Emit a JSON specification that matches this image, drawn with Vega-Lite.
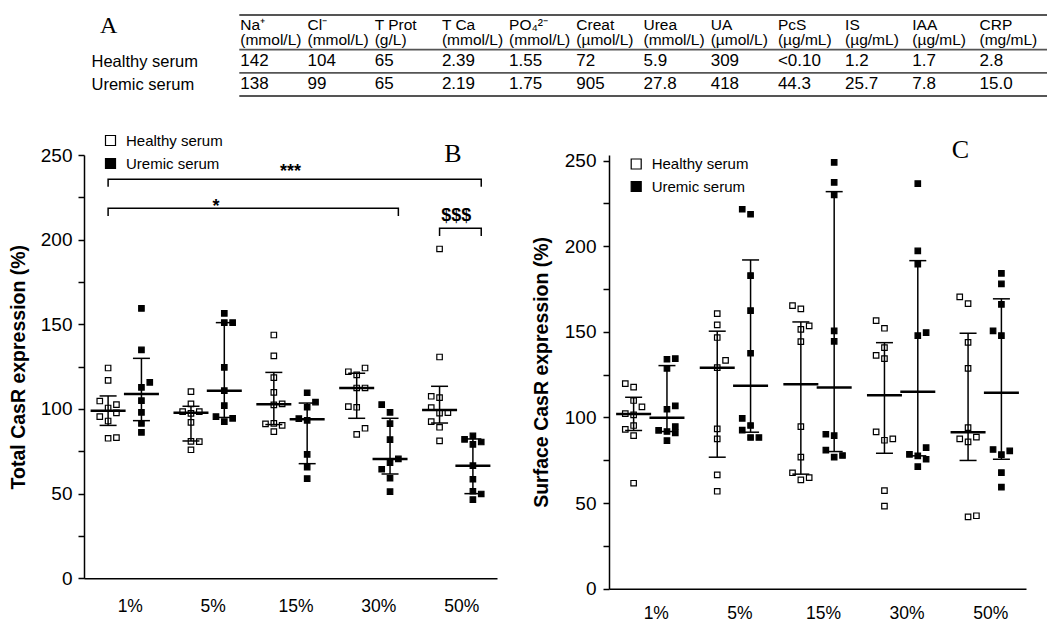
{
  "$schema": "https://vega.github.io/schema/vega-lite/v6.json",
  "padding": {"left": 8, "top": 13, "right": 0, "bottom": 0},
  "background": "white",
  "config": {
    "view": {"stroke": null},
    "font": "Liberation Sans",
    "axis": {"labelColor": "black", "titleColor": "black", "domainColor": "black", "tickColor": "black", "labelFont": "Liberation Sans", "titleFont": "Liberation Sans", "grid": false},
    "legend": {"labelFont": "Liberation Sans", "labelColor": "black"},
    "title": {"color": "black"}
  },
  "bounds": "flush",
  "spacing": 59,
  "resolve": {"scale": {"fill": "independent"}, "legend": {"fill": "independent"}},
  "datasets": {
    "tbl": [
      {"c": "Na", "r": "header", "t": "Na⁺"}, {"c": "Cl", "r": "header", "t": "Cl⁻"}, {"c": "TProt", "r": "header", "t": "T Prot"}, {"c": "TCa", "r": "header", "t": "T Ca"}, {"c": "PO4", "r": "header", "t": "PO₄²⁻"}, {"c": "Creat", "r": "header", "t": "Creat"}, {"c": "Urea", "r": "header", "t": "Urea"}, {"c": "UA", "r": "header", "t": "UA"}, {"c": "PcS", "r": "header", "t": "PcS"}, {"c": "IS", "r": "header", "t": "IS"}, {"c": "IAA", "r": "header", "t": "IAA"}, {"c": "CRP", "r": "header", "t": "CRP"},
      {"c": "Na", "r": "units", "t": "(mmol/L)"}, {"c": "Cl", "r": "units", "t": "(mmol/L)"}, {"c": "TProt", "r": "units", "t": "(g/L)"}, {"c": "TCa", "r": "units", "t": "(mmol/L)"}, {"c": "PO4", "r": "units", "t": "(mmol/L)"}, {"c": "Creat", "r": "units", "t": "(µmol/L)"}, {"c": "Urea", "r": "units", "t": "(mmol/L)"}, {"c": "UA", "r": "units", "t": "(µmol/L)"}, {"c": "PcS", "r": "units", "t": "(µg/mL)"}, {"c": "IS", "r": "units", "t": "(µg/mL)"}, {"c": "IAA", "r": "units", "t": "(µg/mL)"}, {"c": "CRP", "r": "units", "t": "(mg/mL)"},
      {"c": "Na", "r": "healthy", "t": "142"}, {"c": "Cl", "r": "healthy", "t": "104"}, {"c": "TProt", "r": "healthy", "t": "65"}, {"c": "TCa", "r": "healthy", "t": "2.39"}, {"c": "PO4", "r": "healthy", "t": "1.55"}, {"c": "Creat", "r": "healthy", "t": "72"}, {"c": "Urea", "r": "healthy", "t": "5.9"}, {"c": "UA", "r": "healthy", "t": "309"}, {"c": "PcS", "r": "healthy", "t": "<0.10"}, {"c": "IS", "r": "healthy", "t": "1.2"}, {"c": "IAA", "r": "healthy", "t": "1.7"}, {"c": "CRP", "r": "healthy", "t": "2.8"},
      {"c": "Na", "r": "uremic", "t": "138"}, {"c": "Cl", "r": "uremic", "t": "99"}, {"c": "TProt", "r": "uremic", "t": "65"}, {"c": "TCa", "r": "uremic", "t": "2.19"}, {"c": "PO4", "r": "uremic", "t": "1.75"}, {"c": "Creat", "r": "uremic", "t": "905"}, {"c": "Urea", "r": "uremic", "t": "27.8"}, {"c": "UA", "r": "uremic", "t": "418"}, {"c": "PcS", "r": "uremic", "t": "44.3"}, {"c": "IS", "r": "uremic", "t": "25.7"}, {"c": "IAA", "r": "uremic", "t": "7.8"}, {"c": "CRP", "r": "uremic", "t": "15.0"}
    ],
    "tblrules": [
      {"c": "Na", "r": "rule0"}, {"c": "Na", "r": "rule1"}, {"c": "Na", "r": "rule2"}, {"c": "Na", "r": "rule3"}
    ],
    "pts": [
      {"p": "B", "g": "1%", "sr": "Healthy serum", "k": 1, "v": 124.2}, {"p": "B", "g": "1%", "sr": "Healthy serum", "k": 1, "v": 116.9}, {"p": "B", "g": "1%", "sr": "Healthy serum", "k": 0, "v": 104.7}, {"p": "B", "g": "1%", "sr": "Healthy serum", "k": 2, "v": 102.6}, {"p": "B", "g": "1%", "sr": "Healthy serum", "k": 1, "v": 100.6}, {"p": "B", "g": "1%", "sr": "Healthy serum", "k": 2, "v": 97.7}, {"p": "B", "g": "1%", "sr": "Healthy serum", "k": 0, "v": 95.5}, {"p": "B", "g": "1%", "sr": "Healthy serum", "k": 1, "v": 92.9}, {"p": "B", "g": "1%", "sr": "Healthy serum", "k": 1, "v": 82.7}, {"p": "B", "g": "1%", "sr": "Healthy serum", "k": 2, "v": 83.1},
      {"p": "B", "g": "1%", "sr": "Uremic serum", "k": 5, "v": 159.4}, {"p": "B", "g": "1%", "sr": "Uremic serum", "k": 5, "v": 134.9}, {"p": "B", "g": "1%", "sr": "Uremic serum", "k": 6, "v": 115.7}, {"p": "B", "g": "1%", "sr": "Uremic serum", "k": 5, "v": 112.8}, {"p": "B", "g": "1%", "sr": "Uremic serum", "k": 5, "v": 104.9}, {"p": "B", "g": "1%", "sr": "Uremic serum", "k": 5, "v": 98.0}, {"p": "B", "g": "1%", "sr": "Uremic serum", "k": 5, "v": 91.5}, {"p": "B", "g": "1%", "sr": "Uremic serum", "k": 5, "v": 86.2},
      {"p": "B", "g": "5%", "sr": "Healthy serum", "k": 1, "v": 110.2}, {"p": "B", "g": "5%", "sr": "Healthy serum", "k": 1, "v": 103.0}, {"p": "B", "g": "5%", "sr": "Healthy serum", "k": 0, "v": 98.4}, {"p": "B", "g": "5%", "sr": "Healthy serum", "k": 1, "v": 97.4}, {"p": "B", "g": "5%", "sr": "Healthy serum", "k": 2, "v": 98.4}, {"p": "B", "g": "5%", "sr": "Healthy serum", "k": 1, "v": 92.1}, {"p": "B", "g": "5%", "sr": "Healthy serum", "k": 1, "v": 80.9}, {"p": "B", "g": "5%", "sr": "Healthy serum", "k": 2, "v": 80.7}, {"p": "B", "g": "5%", "sr": "Healthy serum", "k": 1, "v": 75.9},
      {"p": "B", "g": "5%", "sr": "Uremic serum", "k": 5, "v": 156.5}, {"p": "B", "g": "5%", "sr": "Uremic serum", "k": 5, "v": 151.0}, {"p": "B", "g": "5%", "sr": "Uremic serum", "k": 6, "v": 151.0}, {"p": "B", "g": "5%", "sr": "Uremic serum", "k": 5, "v": 124.6}, {"p": "B", "g": "5%", "sr": "Uremic serum", "k": 5, "v": 110.8}, {"p": "B", "g": "5%", "sr": "Uremic serum", "k": 5, "v": 102.0}, {"p": "B", "g": "5%", "sr": "Uremic serum", "k": 4, "v": 95.5}, {"p": "B", "g": "5%", "sr": "Uremic serum", "k": 6, "v": 94.5}, {"p": "B", "g": "5%", "sr": "Uremic serum", "k": 5, "v": 92.5},
      {"p": "B", "g": "15%", "sr": "Healthy serum", "k": 1, "v": 143.7}, {"p": "B", "g": "15%", "sr": "Healthy serum", "k": 1, "v": 131.4}, {"p": "B", "g": "15%", "sr": "Healthy serum", "k": 1, "v": 118.5}, {"p": "B", "g": "15%", "sr": "Healthy serum", "k": 1, "v": 109.8}, {"p": "B", "g": "15%", "sr": "Healthy serum", "k": 1, "v": 102.4}, {"p": "B", "g": "15%", "sr": "Healthy serum", "k": 2, "v": 103.0}, {"p": "B", "g": "15%", "sr": "Healthy serum", "k": 0, "v": 91.2}, {"p": "B", "g": "15%", "sr": "Healthy serum", "k": 1, "v": 91.5}, {"p": "B", "g": "15%", "sr": "Healthy serum", "k": 2, "v": 90.3}, {"p": "B", "g": "15%", "sr": "Healthy serum", "k": 1, "v": 86.6},
      {"p": "B", "g": "15%", "sr": "Uremic serum", "k": 5, "v": 109.6}, {"p": "B", "g": "15%", "sr": "Uremic serum", "k": 6, "v": 104.1}, {"p": "B", "g": "15%", "sr": "Uremic serum", "k": 5, "v": 101.0}, {"p": "B", "g": "15%", "sr": "Uremic serum", "k": 4, "v": 94.3}, {"p": "B", "g": "15%", "sr": "Uremic serum", "k": 5, "v": 93.3}, {"p": "B", "g": "15%", "sr": "Uremic serum", "k": 5, "v": 73.2}, {"p": "B", "g": "15%", "sr": "Uremic serum", "k": 5, "v": 65.6}, {"p": "B", "g": "15%", "sr": "Uremic serum", "k": 5, "v": 58.9},
      {"p": "B", "g": "30%", "sr": "Healthy serum", "k": 2, "v": 124.2}, {"p": "B", "g": "30%", "sr": "Healthy serum", "k": 0, "v": 122.0}, {"p": "B", "g": "30%", "sr": "Healthy serum", "k": 1, "v": 120.1}, {"p": "B", "g": "30%", "sr": "Healthy serum", "k": 1, "v": 112.4}, {"p": "B", "g": "30%", "sr": "Healthy serum", "k": 2, "v": 112.4}, {"p": "B", "g": "30%", "sr": "Healthy serum", "k": 0, "v": 101.4}, {"p": "B", "g": "30%", "sr": "Healthy serum", "k": 1, "v": 101.0}, {"p": "B", "g": "30%", "sr": "Healthy serum", "k": 2, "v": 88.6}, {"p": "B", "g": "30%", "sr": "Healthy serum", "k": 1, "v": 85.0},
      {"p": "B", "g": "30%", "sr": "Uremic serum", "k": 4, "v": 102.6}, {"p": "B", "g": "30%", "sr": "Uremic serum", "k": 5, "v": 98.0}, {"p": "B", "g": "30%", "sr": "Uremic serum", "k": 5, "v": 91.3}, {"p": "B", "g": "30%", "sr": "Uremic serum", "k": 5, "v": 81.9}, {"p": "B", "g": "30%", "sr": "Uremic serum", "k": 6, "v": 70.5}, {"p": "B", "g": "30%", "sr": "Uremic serum", "k": 5, "v": 68.3}, {"p": "B", "g": "30%", "sr": "Uremic serum", "k": 4, "v": 64.4}, {"p": "B", "g": "30%", "sr": "Uremic serum", "k": 5, "v": 59.1}, {"p": "B", "g": "30%", "sr": "Uremic serum", "k": 5, "v": 51.2},
      {"p": "B", "g": "50%", "sr": "Healthy serum", "k": 1, "v": 194.5}, {"p": "B", "g": "50%", "sr": "Healthy serum", "k": 1, "v": 130.7}, {"p": "B", "g": "50%", "sr": "Healthy serum", "k": 0, "v": 107.5}, {"p": "B", "g": "50%", "sr": "Healthy serum", "k": 1, "v": 106.7}, {"p": "B", "g": "50%", "sr": "Healthy serum", "k": 0, "v": 100.8}, {"p": "B", "g": "50%", "sr": "Healthy serum", "k": 1, "v": 97.6}, {"p": "B", "g": "50%", "sr": "Healthy serum", "k": 2, "v": 97.8}, {"p": "B", "g": "50%", "sr": "Healthy serum", "k": 0, "v": 92.5}, {"p": "B", "g": "50%", "sr": "Healthy serum", "k": 1, "v": 89.2}, {"p": "B", "g": "50%", "sr": "Healthy serum", "k": 1, "v": 81.2},
      {"p": "B", "g": "50%", "sr": "Uremic serum", "k": 5, "v": 84.1}, {"p": "B", "g": "50%", "sr": "Uremic serum", "k": 4, "v": 82.1}, {"p": "B", "g": "50%", "sr": "Uremic serum", "k": 6, "v": 80.5}, {"p": "B", "g": "50%", "sr": "Uremic serum", "k": 5, "v": 79.1}, {"p": "B", "g": "50%", "sr": "Uremic serum", "k": 5, "v": 66.5}, {"p": "B", "g": "50%", "sr": "Uremic serum", "k": 5, "v": 58.5}, {"p": "B", "g": "50%", "sr": "Uremic serum", "k": 5, "v": 51.4}, {"p": "B", "g": "50%", "sr": "Uremic serum", "k": 6, "v": 49.8}, {"p": "B", "g": "50%", "sr": "Uremic serum", "k": 5, "v": 46.5},
      {"p": "C", "g": "1%", "sr": "Healthy serum", "k": 0, "v": 119.8}, {"p": "C", "g": "1%", "sr": "Healthy serum", "k": 1, "v": 117.7}, {"p": "C", "g": "1%", "sr": "Healthy serum", "k": 1, "v": 109.9}, {"p": "C", "g": "1%", "sr": "Healthy serum", "k": 2, "v": 106.2}, {"p": "C", "g": "1%", "sr": "Healthy serum", "k": 0, "v": 102.3}, {"p": "C", "g": "1%", "sr": "Healthy serum", "k": 1, "v": 101.5}, {"p": "C", "g": "1%", "sr": "Healthy serum", "k": 1, "v": 95.3}, {"p": "C", "g": "1%", "sr": "Healthy serum", "k": 0, "v": 93.1}, {"p": "C", "g": "1%", "sr": "Healthy serum", "k": 1, "v": 89.4}, {"p": "C", "g": "1%", "sr": "Healthy serum", "k": 1, "v": 61.6},
      {"p": "C", "g": "1%", "sr": "Uremic serum", "k": 5, "v": 134.0}, {"p": "C", "g": "1%", "sr": "Uremic serum", "k": 6, "v": 134.4}, {"p": "C", "g": "1%", "sr": "Uremic serum", "k": 5, "v": 128.7}, {"p": "C", "g": "1%", "sr": "Uremic serum", "k": 6, "v": 106.8}, {"p": "C", "g": "1%", "sr": "Uremic serum", "k": 5, "v": 104.8}, {"p": "C", "g": "1%", "sr": "Uremic serum", "k": 4, "v": 92.5}, {"p": "C", "g": "1%", "sr": "Uremic serum", "k": 5, "v": 91.8}, {"p": "C", "g": "1%", "sr": "Uremic serum", "k": 6, "v": 94.7}, {"p": "C", "g": "1%", "sr": "Uremic serum", "k": 6, "v": 91.0}, {"p": "C", "g": "1%", "sr": "Uremic serum", "k": 5, "v": 86.5},
      {"p": "C", "g": "5%", "sr": "Healthy serum", "k": 1, "v": 160.7}, {"p": "C", "g": "5%", "sr": "Healthy serum", "k": 1, "v": 154.1}, {"p": "C", "g": "5%", "sr": "Healthy serum", "k": 1, "v": 146.7}, {"p": "C", "g": "5%", "sr": "Healthy serum", "k": 2, "v": 133.3}, {"p": "C", "g": "5%", "sr": "Healthy serum", "k": 1, "v": 129.1}, {"p": "C", "g": "5%", "sr": "Healthy serum", "k": 1, "v": 93.3}, {"p": "C", "g": "5%", "sr": "Healthy serum", "k": 1, "v": 87.5}, {"p": "C", "g": "5%", "sr": "Healthy serum", "k": 1, "v": 66.5}, {"p": "C", "g": "5%", "sr": "Healthy serum", "k": 1, "v": 56.9},
      {"p": "C", "g": "5%", "sr": "Uremic serum", "k": 4, "v": 221.6}, {"p": "C", "g": "5%", "sr": "Uremic serum", "k": 5, "v": 218.7}, {"p": "C", "g": "5%", "sr": "Uremic serum", "k": 5, "v": 182.9}, {"p": "C", "g": "5%", "sr": "Uremic serum", "k": 5, "v": 162.4}, {"p": "C", "g": "5%", "sr": "Uremic serum", "k": 5, "v": 137.5}, {"p": "C", "g": "5%", "sr": "Uremic serum", "k": 4, "v": 99.5}, {"p": "C", "g": "5%", "sr": "Uremic serum", "k": 5, "v": 95.3}, {"p": "C", "g": "5%", "sr": "Uremic serum", "k": 4, "v": 92.6}, {"p": "C", "g": "5%", "sr": "Uremic serum", "k": 5, "v": 88.3}, {"p": "C", "g": "5%", "sr": "Uremic serum", "k": 6, "v": 88.3},
      {"p": "C", "g": "15%", "sr": "Healthy serum", "k": 0, "v": 165.3}, {"p": "C", "g": "15%", "sr": "Healthy serum", "k": 1, "v": 163.4}, {"p": "C", "g": "15%", "sr": "Healthy serum", "k": 2, "v": 153.5}, {"p": "C", "g": "15%", "sr": "Healthy serum", "k": 1, "v": 151.5}, {"p": "C", "g": "15%", "sr": "Healthy serum", "k": 1, "v": 144.3}, {"p": "C", "g": "15%", "sr": "Healthy serum", "k": 1, "v": 94.7}, {"p": "C", "g": "15%", "sr": "Healthy serum", "k": 1, "v": 76.8}, {"p": "C", "g": "15%", "sr": "Healthy serum", "k": 0, "v": 67.7}, {"p": "C", "g": "15%", "sr": "Healthy serum", "k": 2, "v": 64.9}, {"p": "C", "g": "15%", "sr": "Healthy serum", "k": 1, "v": 63.6},
      {"p": "C", "g": "15%", "sr": "Uremic serum", "k": 5, "v": 249.0}, {"p": "C", "g": "15%", "sr": "Uremic serum", "k": 5, "v": 237.3}, {"p": "C", "g": "15%", "sr": "Uremic serum", "k": 5, "v": 230.0}, {"p": "C", "g": "15%", "sr": "Uremic serum", "k": 5, "v": 150.6}, {"p": "C", "g": "15%", "sr": "Uremic serum", "k": 5, "v": 144.5}, {"p": "C", "g": "15%", "sr": "Uremic serum", "k": 4, "v": 90.2}, {"p": "C", "g": "15%", "sr": "Uremic serum", "k": 5, "v": 89.4}, {"p": "C", "g": "15%", "sr": "Uremic serum", "k": 4, "v": 80.9}, {"p": "C", "g": "15%", "sr": "Uremic serum", "k": 5, "v": 76.8}, {"p": "C", "g": "15%", "sr": "Uremic serum", "k": 6, "v": 77.8},
      {"p": "C", "g": "30%", "sr": "Healthy serum", "k": 0, "v": 156.6}, {"p": "C", "g": "30%", "sr": "Healthy serum", "k": 1, "v": 152.1}, {"p": "C", "g": "30%", "sr": "Healthy serum", "k": 1, "v": 140.8}, {"p": "C", "g": "30%", "sr": "Healthy serum", "k": 0, "v": 136.3}, {"p": "C", "g": "30%", "sr": "Healthy serum", "k": 1, "v": 134.4}, {"p": "C", "g": "30%", "sr": "Healthy serum", "k": 0, "v": 91.6}, {"p": "C", "g": "30%", "sr": "Healthy serum", "k": 1, "v": 86.7}, {"p": "C", "g": "30%", "sr": "Healthy serum", "k": 2, "v": 87.5}, {"p": "C", "g": "30%", "sr": "Healthy serum", "k": 1, "v": 57.3}, {"p": "C", "g": "30%", "sr": "Healthy serum", "k": 1, "v": 48.2},
      {"p": "C", "g": "30%", "sr": "Uremic serum", "k": 5, "v": 236.6}, {"p": "C", "g": "30%", "sr": "Uremic serum", "k": 5, "v": 197.3}, {"p": "C", "g": "30%", "sr": "Uremic serum", "k": 5, "v": 189.5}, {"p": "C", "g": "30%", "sr": "Uremic serum", "k": 5, "v": 147.8}, {"p": "C", "g": "30%", "sr": "Uremic serum", "k": 6, "v": 149.6}, {"p": "C", "g": "30%", "sr": "Uremic serum", "k": 6, "v": 82.4}, {"p": "C", "g": "30%", "sr": "Uremic serum", "k": 4, "v": 78.5}, {"p": "C", "g": "30%", "sr": "Uremic serum", "k": 5, "v": 77.6}, {"p": "C", "g": "30%", "sr": "Uremic serum", "k": 6, "v": 75.6}, {"p": "C", "g": "30%", "sr": "Uremic serum", "k": 5, "v": 71.3},
      {"p": "C", "g": "50%", "sr": "Healthy serum", "k": 0, "v": 170.4}, {"p": "C", "g": "50%", "sr": "Healthy serum", "k": 1, "v": 166.5}, {"p": "C", "g": "50%", "sr": "Healthy serum", "k": 1, "v": 143.9}, {"p": "C", "g": "50%", "sr": "Healthy serum", "k": 1, "v": 128.7}, {"p": "C", "g": "50%", "sr": "Healthy serum", "k": 1, "v": 94.1}, {"p": "C", "g": "50%", "sr": "Healthy serum", "k": 0, "v": 87.5}, {"p": "C", "g": "50%", "sr": "Healthy serum", "k": 2, "v": 88.5}, {"p": "C", "g": "50%", "sr": "Healthy serum", "k": 1, "v": 85.8}, {"p": "C", "g": "50%", "sr": "Healthy serum", "k": 1, "v": 42.0}, {"p": "C", "g": "50%", "sr": "Healthy serum", "k": 2, "v": 42.6},
      {"p": "C", "g": "50%", "sr": "Uremic serum", "k": 5, "v": 184.2}, {"p": "C", "g": "50%", "sr": "Uremic serum", "k": 5, "v": 178.0}, {"p": "C", "g": "50%", "sr": "Uremic serum", "k": 5, "v": 166.1}, {"p": "C", "g": "50%", "sr": "Uremic serum", "k": 4, "v": 150.6}, {"p": "C", "g": "50%", "sr": "Uremic serum", "k": 5, "v": 147.8}, {"p": "C", "g": "50%", "sr": "Uremic serum", "k": 4, "v": 81.3}, {"p": "C", "g": "50%", "sr": "Uremic serum", "k": 5, "v": 78.3}, {"p": "C", "g": "50%", "sr": "Uremic serum", "k": 6, "v": 80.5}, {"p": "C", "g": "50%", "sr": "Uremic serum", "k": 5, "v": 67.8}, {"p": "C", "g": "50%", "sr": "Uremic serum", "k": 5, "v": 59.3}
    ],
    "sum": [
      {"p": "B", "g": "1%", "k": 1, "med": 99.0, "lo": 90.3, "hi": 107.7}, {"p": "B", "g": "1%", "k": 5, "med": 108.9, "lo": 93.1, "hi": 129.9},
      {"p": "B", "g": "5%", "k": 1, "med": 97.8, "lo": 81.1, "hi": 101.6}, {"p": "B", "g": "5%", "k": 5, "med": 110.8, "lo": 95.0, "hi": 151.0},
      {"p": "B", "g": "15%", "k": 1, "med": 102.8, "lo": 90.8, "hi": 121.6}, {"p": "B", "g": "15%", "k": 5, "med": 93.9, "lo": 67.7, "hi": 103.5},
      {"p": "B", "g": "30%", "k": 1, "med": 112.4, "lo": 94.5, "hi": 121.1}, {"p": "B", "g": "30%", "k": 5, "med": 70.5, "lo": 61.6, "hi": 94.5},
      {"p": "B", "g": "50%", "k": 1, "med": 99.4, "lo": 91.7, "hi": 113.4}, {"p": "B", "g": "50%", "k": 5, "med": 66.5, "lo": 50.0, "hi": 82.3},
      {"p": "C", "g": "1%", "k": 1, "med": 102.1, "lo": 92.4, "hi": 111.8}, {"p": "C", "g": "1%", "k": 5, "med": 99.8, "lo": 91.8, "hi": 130.3},
      {"p": "C", "g": "5%", "k": 1, "med": 129.1, "lo": 76.8, "hi": 150.4}, {"p": "C", "g": "5%", "k": 5, "med": 118.6, "lo": 91.4, "hi": 192.0},
      {"p": "C", "g": "15%", "k": 1, "med": 119.4, "lo": 66.9, "hi": 155.8}, {"p": "C", "g": "15%", "k": 5, "med": 117.5, "lo": 80.1, "hi": 231.9},
      {"p": "C", "g": "30%", "k": 1, "med": 113.0, "lo": 79.1, "hi": 143.7}, {"p": "C", "g": "30%", "k": 5, "med": 115.1, "lo": 77.6, "hi": 191.6},
      {"p": "C", "g": "50%", "k": 1, "med": 91.4, "lo": 74.9, "hi": 149.2}, {"p": "C", "g": "50%", "k": 5, "med": 114.5, "lo": 75.6, "hi": 169.3}
    ],
    "brk": [
      {"id": "a", "o": 1, "g": "1%", "k": 1, "v": 231.2}, {"id": "a", "o": 2, "g": "1%", "k": 1, "v": 235.7}, {"id": "a", "o": 3, "g": "50%", "k": 6, "v": 235.7}, {"id": "a", "o": 4, "g": "50%", "k": 6, "v": 231.2},
      {"id": "b", "o": 1, "g": "1%", "k": 1, "v": 214.0}, {"id": "b", "o": 2, "g": "1%", "k": 1, "v": 218.5}, {"id": "b", "o": 3, "g": "30%", "k": 6, "v": 218.5}, {"id": "b", "o": 4, "g": "30%", "k": 6, "v": 214.0},
      {"id": "c", "o": 1, "g": "50%", "k": 1, "v": 202.2}, {"id": "c", "o": 2, "g": "50%", "k": 1, "v": 206.7}, {"id": "c", "o": 3, "g": "50%", "k": 6, "v": 206.7}, {"id": "c", "o": 4, "g": "50%", "k": 6, "v": 202.2}
    ],
    "brklab": [
      {"g": "15%", "k": 3, "v": 237.2, "t": "***"},
      {"g": "5%", "k": 4, "v": 216.5, "t": "*"},
      {"g": "50%", "k": 3, "v": 210.9, "t": "$$$"}
    ]
  },
  "vconcat": [
    {
      "width": 963,
      "height": 81,
      "layer": [
        {
          "data": {"name": "tblrules"},
          "mark": {"type": "rule", "stroke": "#555555", "strokeWidth": 1.8, "xOffset": -1},
          "encoding": {
            "x": {"field": "c", "type": "nominal", "scale": {"type": "point", "domain": ["Na", "Cl", "TProt", "TCa", "PO4", "Creat", "Urea", "UA", "PcS", "IS", "IAA", "CRP"], "range": [156.3, 895.5], "padding": 0}, "axis": null},
            "x2": {"value": "width"},
            "y": {"field": "r", "type": "nominal", "scale": {"type": "point", "domain": ["rule0", "header", "units", "rule1", "healthy", "rule2", "uremic", "rule3"], "padding": 0},
              "axis": {"orient": "left", "values": ["healthy", "uremic"], "labelExpr": "datum.value == 'healthy' ? 'Healthy serum' : 'Uremic serum'", "domain": false, "ticks": false, "tickSize": 0, "labelAlign": "left", "labelBaseline": "middle", "labelPadding": -7, "labelFontSize": 16.5,
                "title": "A", "titleAngle": 0, "titleAlign": "left", "titleBaseline": "alphabetic", "titleX": 15.5, "titleY": 17.4, "titleFont": "Liberation Serif", "titleFontSize": 24, "titleFontWeight": "normal"}}
          }
        },
        {
          "data": {"name": "tbl"},
          "transform": [{"filter": "datum.r == 'header'"}],
          "mark": {"type": "text", "align": "left", "baseline": "middle", "fontSize": 15.5, "color": "black", "dy": -2},
          "encoding": {
            "x": {"field": "c", "type": "nominal"},
            "y": {"field": "r", "type": "nominal"},
            "text": {"field": "t"}
          }
        },
        {
          "data": {"name": "tbl"},
          "transform": [{"filter": "datum.r == 'units'"}],
          "mark": {"type": "text", "align": "left", "baseline": "middle", "fontSize": 15.5, "color": "black", "dy": 1.6},
          "encoding": {
            "x": {"field": "c", "type": "nominal"},
            "y": {"field": "r", "type": "nominal"},
            "text": {"field": "t"}
          }
        },
        {
          "data": {"name": "tbl"},
          "transform": [{"filter": "datum.r == 'healthy' || datum.r == 'uremic'"}],
          "mark": {"type": "text", "align": "left", "baseline": "middle", "fontSize": 17, "color": "black"},
          "encoding": {
            "x": {"field": "c", "type": "nominal"},
            "y": {"field": "r", "type": "nominal"},
            "text": {"field": "t"}
          }
        }
      ]
    },
    {
      "bounds": "flush",
      "spacing": 112,
      "resolve": {"scale": {"fill": "independent"}, "legend": {"fill": "independent"}},
      "hconcat": [
        {
          "width": 413,
          "height": 423.3,
          "layer": [
            {
              "data": {"name": "pts"},
              "transform": [{"filter": "datum.p == 'B'"}],
              "mark": {"type": "square", "stroke": "black", "strokeWidth": 1.2, "opacity": 1, "size": 30},
              "encoding": {
                "x": {"field": "g", "type": "nominal", "scale": {"domain": ["1%", "5%", "15%", "30%", "50%"], "paddingInner": 0.296, "paddingOuter": 0.14},
                  "axis": {"title": null, "ticks": false, "tickSize": 0, "labelPadding": 19, "labelFontSize": 17.5, "labelAngle": 0, "labelOffset": 5.5, "domainWidth": 1.5}},
                "xOffset": {"field": "k", "type": "ordinal", "scale": {"domain": [0, 1, 2, 3, 4, 5, 6]}},
                "y": {"field": "v", "type": "quantitative", "scale": {"domain": [0, 250], "nice": false},
                  "axis": {"values": [0, 25, 50, 75, 100, 125, 150, 175, 200, 225, 250], "labelExpr": "datum.value % 50 == 0 ? datum.label : ''", "title": "Total CasR expression (%)", "titleFontSize": 19.5, "titleFontWeight": "bold", "titlePadding": 12, "labelFontSize": 19, "labelPadding": 6, "tickSize": 6, "tickWidth": 1.5, "domainWidth": 1.5}},
                "fill": {"field": "sr", "type": "nominal", "scale": {"domain": ["Healthy serum", "Uremic serum"], "range": ["white", "black"]},
                  "legend": {"orient": "none", "legendX": 19, "legendY": -22, "title": null, "symbolType": "square", "symbolSize": 100, "symbolStrokeColor": "black", "symbolStrokeWidth": 1.2, "labelFontSize": 15, "labelOffset": 8, "rowPadding": 7, "padding": 0}}
              }
            },
            {
              "data": {"name": "sum"},
              "transform": [{"filter": "datum.p == 'B'"}],
              "mark": {"type": "rule", "strokeWidth": 1.5, "color": "black"},
              "encoding": {
                "x": {"field": "g", "type": "nominal"},
                "xOffset": {"field": "k", "type": "ordinal"},
                "y": {"field": "lo", "type": "quantitative"},
                "y2": {"field": "hi"}
              }
            },
            {
              "data": {"name": "sum"},
              "transform": [{"filter": "datum.p == 'B'"}],
              "mark": {"type": "tick", "size": 35, "thickness": 2.5, "color": "black", "opacity": 1},
              "encoding": {
                "x": {"field": "g", "type": "nominal"},
                "xOffset": {"field": "k", "type": "ordinal"},
                "y": {"field": "med", "type": "quantitative"}
              }
            },
            {
              "data": {"name": "sum"},
              "transform": [{"filter": "datum.p == 'B'"}],
              "mark": {"type": "tick", "size": 17, "thickness": 1.5, "color": "black", "opacity": 1},
              "encoding": {
                "x": {"field": "g", "type": "nominal"},
                "xOffset": {"field": "k", "type": "ordinal"},
                "y": {"field": "lo", "type": "quantitative"}
              }
            },
            {
              "data": {"name": "sum"},
              "transform": [{"filter": "datum.p == 'B'"}],
              "mark": {"type": "tick", "size": 17, "thickness": 1.5, "color": "black", "opacity": 1},
              "encoding": {
                "x": {"field": "g", "type": "nominal"},
                "xOffset": {"field": "k", "type": "ordinal"},
                "y": {"field": "hi", "type": "quantitative"}
              }
            },
            {
              "data": {"name": "brk"},
              "mark": {"type": "line", "strokeWidth": 1.5, "color": "black"},
              "encoding": {
                "x": {"field": "g", "type": "nominal"},
                "xOffset": {"field": "k", "type": "ordinal"},
                "y": {"field": "v", "type": "quantitative"},
                "detail": {"field": "id"},
                "order": {"field": "o", "type": "quantitative"}
              }
            },
            {
              "data": {"name": "brklab"},
              "mark": {"type": "text", "fontSize": 18, "fontWeight": "bold", "baseline": "alphabetic", "align": "center", "color": "black"},
              "encoding": {
                "x": {"field": "g", "type": "nominal"},
                "xOffset": {"field": "k", "type": "ordinal"},
                "y": {"field": "v", "type": "quantitative"},
                "text": {"field": "t"}
              }
            },
            {
              "data": {"values": [{"t": "B"}]},
              "mark": {"type": "text", "font": "Liberation Serif", "fontSize": 26, "baseline": "alphabetic", "align": "center", "color": "black", "dx": -3.2, "dy": 7.4},
              "encoding": {
                "x": {"datum": "50%", "type": "nominal"},
                "y": {"datum": 250, "type": "quantitative"},
                "text": {"field": "t"}
              }
            }
          ]
        },
        {
          "width": 417,
          "height": 433.7,
          "layer": [
            {
              "data": {"name": "pts"},
              "transform": [{"filter": "datum.p == 'C'"}],
              "mark": {"type": "square", "stroke": "black", "strokeWidth": 1.2, "opacity": 1, "size": 30},
              "encoding": {
                "x": {"field": "g", "type": "nominal", "scale": {"domain": ["1%", "5%", "15%", "30%", "50%"], "paddingInner": 0.3026, "paddingOuter": 0.145},
                  "axis": {"title": null, "ticks": false, "tickSize": 0, "labelPadding": 16, "labelFontSize": 17.5, "labelAngle": 0, "labelOffset": 6, "domainWidth": 1.5}},
                "xOffset": {"field": "k", "type": "ordinal", "scale": {"domain": [0, 1, 2, 3, 4, 5, 6]}},
                "y": {"field": "v", "type": "quantitative", "scale": {"domain": [0, 253.3], "nice": false},
                  "axis": {"values": [0, 25, 50, 75, 100, 125, 150, 175, 200, 225, 250], "labelExpr": "datum.value % 50 == 0 ? datum.label : ''", "title": "Surface CasR expression (%)", "titleFontSize": 19.5, "titleFontWeight": "bold", "titlePadding": 13, "labelFontSize": 19, "labelPadding": 7, "tickSize": 6, "tickWidth": 1.5, "domainWidth": 1.5}},
                "fill": {"field": "sr", "type": "nominal", "scale": {"domain": ["Healthy serum", "Uremic serum"], "range": ["white", "black"]},
                  "legend": {"orient": "none", "legendX": 19.7, "legendY": 1.5, "title": null, "symbolType": "square", "symbolSize": 100, "symbolStrokeColor": "black", "symbolStrokeWidth": 1.2, "labelFontSize": 15, "labelOffset": 8, "rowPadding": 6.5, "padding": 0}}
              }
            },
            {
              "data": {"name": "sum"},
              "transform": [{"filter": "datum.p == 'C'"}],
              "mark": {"type": "rule", "strokeWidth": 1.5, "color": "black"},
              "encoding": {
                "x": {"field": "g", "type": "nominal"},
                "xOffset": {"field": "k", "type": "ordinal"},
                "y": {"field": "lo", "type": "quantitative"},
                "y2": {"field": "hi"}
              }
            },
            {
              "data": {"name": "sum"},
              "transform": [{"filter": "datum.p == 'C'"}],
              "mark": {"type": "tick", "size": 35, "thickness": 2.5, "color": "black", "opacity": 1},
              "encoding": {
                "x": {"field": "g", "type": "nominal"},
                "xOffset": {"field": "k", "type": "ordinal"},
                "y": {"field": "med", "type": "quantitative"}
              }
            },
            {
              "data": {"name": "sum"},
              "transform": [{"filter": "datum.p == 'C'"}],
              "mark": {"type": "tick", "size": 17, "thickness": 1.5, "color": "black", "opacity": 1},
              "encoding": {
                "x": {"field": "g", "type": "nominal"},
                "xOffset": {"field": "k", "type": "ordinal"},
                "y": {"field": "lo", "type": "quantitative"}
              }
            },
            {
              "data": {"name": "sum"},
              "transform": [{"filter": "datum.p == 'C'"}],
              "mark": {"type": "tick", "size": 17, "thickness": 1.5, "color": "black", "opacity": 1},
              "encoding": {
                "x": {"field": "g", "type": "nominal"},
                "xOffset": {"field": "k", "type": "ordinal"},
                "y": {"field": "hi", "type": "quantitative"}
              }
            },
            {
              "data": {"values": [{"t": "C"}]},
              "mark": {"type": "text", "font": "Liberation Serif", "fontSize": 26, "baseline": "alphabetic", "align": "center", "color": "black", "dx": -24.2, "dy": -2.3},
              "encoding": {
                "x": {"datum": "50%", "type": "nominal"},
                "y": {"datum": 250, "type": "quantitative"},
                "text": {"field": "t"}
              }
            }
          ]
        }
      ]
    }
  ]
}
